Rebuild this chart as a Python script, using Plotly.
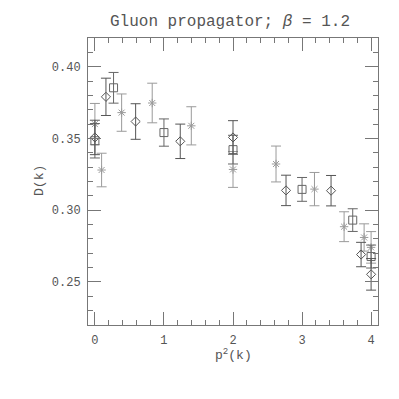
import plotly.graph_objects as go

# Diamonds series
dia_x = [0.0, 0.16, 0.59, 1.236, 2.0, 2.768, 3.42, 3.855, 4.0]
dia_y = [0.3507, 0.379, 0.3618, 0.348, 0.3507, 0.3138, 0.3136, 0.2691, 0.2553]
dia_e = [0.012, 0.013, 0.0124, 0.012, 0.0117, 0.0106, 0.0106, 0.0085, 0.011]

# Squares series
sq_x = [0.0, 0.27, 1.0, 2.0, 3.0, 3.734, 4.0]
sq_y = [0.3484, 0.3853, 0.3541, 0.3422, 0.3145, 0.2931, 0.2677]
sq_e = [0.012, 0.0107, 0.0095, 0.010, 0.0083, 0.0079, 0.008]

# Asterisks series
ast_x = [0.0, 0.097, 0.387, 0.83, 1.396, 2.0, 2.623, 3.18, 3.609, 3.899, 4.0]
ast_y = [0.360, 0.328, 0.368, 0.3747, 0.3588, 0.3284, 0.3322, 0.3147, 0.2885, 0.281, 0.2741]
ast_e = [0.0144, 0.0117, 0.013, 0.0138, 0.0133, 0.0125, 0.0125, 0.0116, 0.0104, 0.0095, 0.011]

x_tickvals = [0, 1, 2, 3, 4]
x_ticktext = ["0", "1", "2", "3", "4"]
y_tickvals = [0.25, 0.30, 0.35, 0.40]
y_ticktext = ["0.25", "0.30", "0.35", "0.40"]

FONT = "Liberation Mono"
TXT = "#555555"
AX = "#777777"

fig = go.Figure()

def add(x, y, e, symbol, color, size):
    fig.add_trace(go.Scatter(
        x=x, y=y, mode="markers",
        marker=dict(symbol=symbol, size=size, color=color,
                    line=dict(color=color, width=1)),
        error_y=dict(type="data", array=e, visible=True, color=color,
                     thickness=1, width=5),
        showlegend=False,
    ))

add(ast_x, ast_y, ast_e, "asterisk-open", "#9a9a9a", 7)
add(sq_x, sq_y, sq_e, "square-open", "#666666", 8)
add(dia_x, dia_y, dia_e, "diamond-open", "#555555", 7)

axis_common = dict(
    showgrid=False, zeroline=False, showline=True, linecolor=AX, linewidth=1,
    mirror="ticks", ticks="inside", ticklen=13, tickcolor=AX, tickwidth=1,
    tickfont=dict(family=FONT, size=12, color=TXT), automargin=False,
    ticklabelstandoff=4,
)

fig.update_xaxes(range=[-0.1, 4.1], tickmode="array",
                 tickvals=x_tickvals, ticktext=x_ticktext,
                 minor=dict(ticks="inside", ticklen=5, dtick=0.2, tick0=0,
                            tickcolor=AX, showgrid=False),
                 **axis_common)
fig.update_yaxes(range=[0.22, 0.42], tickmode="array",
                 tickvals=y_tickvals, ticktext=y_ticktext,
                 minor=dict(ticks="inside", ticklen=5, dtick=0.01, tick0=0.22,
                            tickcolor=AX, showgrid=False),
                 **axis_common)

# page body has an 8px margin, so the figure is drawn offset by 8px
W = 391
fig.update_layout(
    width=W, height=W,
    margin=dict(l=80, r=21, t=30, b=74),
    paper_bgcolor="white", plot_bgcolor="white",
    title=dict(text="Gluon propagator; <i>β</i> = 1.2", x=(230 - 8) / W, xanchor="center",
               y=1 - 12 / W, yanchor="middle",
               font=dict(family=FONT, size=16, color=TXT)),
    annotations=[
        dict(text="p<sup>2</sup>(k)", xref="paper", yref="paper", x=0.5, y=-0.104,
             xanchor="center", yanchor="middle", showarrow=False,
             font=dict(family=FONT, size=13, color=TXT)),
        dict(text="D(k)", xref="paper", yref="paper", x=-0.1655, y=0.502,
             xanchor="center", yanchor="middle", showarrow=False, textangle=-90,
             font=dict(family=FONT, size=13, color=TXT)),
    ],
)

fig.write_html("out.html")
